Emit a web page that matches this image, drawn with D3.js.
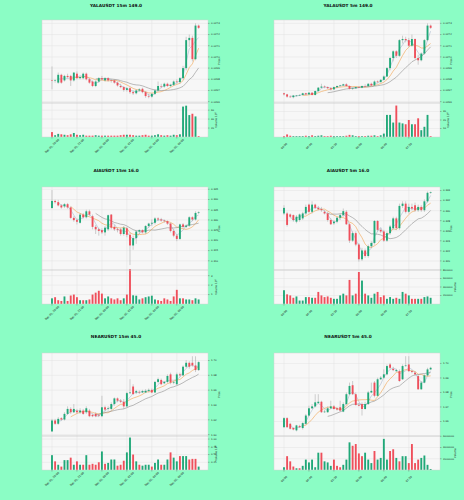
<!DOCTYPE html>
<html>
<head>
<meta charset="utf-8">
<script src="https://cdn.jsdelivr.net/npm/d3@7"></script>
<style>
  html, body { margin: 0; padding: 0; background: #8bfdc5; }
  svg { display: block; font-family: "DejaVu Sans", sans-serif; }
</style>
</head>
<body>
<svg id="fig" width="464" height="500"></svg>
<script>

// ---- data: [open, high, low, close] per candle ----

const yala15Candles = [
  [0.02679,0.026915,0.02671,0.026785],[0.026785,0.0268,0.02677,0.02679],[0.02677,0.02686,0.02676,0.02684],
  [0.02684,0.02685,0.02676,0.02677],[0.02679,0.02684,0.02678,0.02683],[0.02683,0.02685,0.02681,0.02682],
  [0.02683,0.02684,0.02674,0.02679],[0.02679,0.02686,0.02678,0.02686],[0.02685,0.02687,0.0268,0.02681],
  [0.02681,0.02683,0.0268,0.02682],[0.02681,0.02686,0.0268,0.02685],[0.02685,0.02686,0.02679,0.0268],
  [0.0268,0.02681,0.02676,0.02677],[0.02678,0.02679,0.02673,0.02674],[0.02674,0.02679,0.02673,0.02678],
  [0.02678,0.02682,0.02677,0.02681],[0.02681,0.02683,0.02679,0.0268],[0.02679,0.02682,0.02678,0.02681],
  [0.02681,0.02682,0.02678,0.02679],[0.02679,0.0268,0.02677,0.026785],[0.02679,0.0268,0.02676,0.02677],
  [0.02677,0.02678,0.026735,0.026745],[0.02674,0.02676,0.02672,0.02673],[0.02673,0.02674,0.02669,0.026705],
  [0.026705,0.02673,0.02669,0.02672],[0.02672,0.02673,0.02667,0.026685],[0.026685,0.0267,0.02666,0.026675],
  [0.026675,0.02671,0.026665,0.0267],[0.0267,0.02672,0.02669,0.02671],[0.026715,0.026725,0.026675,0.026685],
  [0.026685,0.026695,0.026635,0.02665],[0.02665,0.02667,0.02663,0.026645],[0.026645,0.026675,0.026635,0.02667],
  [0.02667,0.02671,0.02666,0.0267],[0.0267,0.02678,0.02669,0.02674],[0.02674,0.02676,0.02672,0.026735],
  [0.026735,0.02677,0.026725,0.02676],[0.02676,0.02677,0.02673,0.02674],[0.02674,0.02676,0.02673,0.02675],
  [0.02675,0.02679,0.02674,0.02678],[0.02678,0.0268,0.02676,0.026775],[0.026775,0.02682,0.02676,0.02681],
  [0.02681,0.02692,0.0268,0.0269],[0.0269,0.02718,0.02688,0.02715],[0.02715,0.0272,0.02709,0.02717],
  [0.02717,0.02719,0.02696,0.02698],[0.02698,0.0273,0.02697,0.02728],[0.02728,0.02729,0.02725,0.02726]
];
const yala15Volume = [11,4,7,6,5,4,6,9,5,4, 5,3,3,3,4,3,3,3,3,3, 3,3,4,5,5,5,4,3,3,4,
  5,3,3,4,6,4,3,4,3,5, 4,6,68,70,49,52,46,2]; // x 10^6

const yala5Candles = [
  [0.026675,0.02668,0.026655,0.026665],[0.026665,0.02667,0.026635,0.026645],[0.026645,0.026655,0.026635,0.02664],
  [0.02664,0.02666,0.02663,0.026655],[0.02665,0.02666,0.026645,0.026655],[0.026655,0.026665,0.02665,0.02666],
  [0.02666,0.02668,0.026655,0.026675],[0.026675,0.02668,0.02666,0.026665],[0.026665,0.026685,0.02666,0.02668],
  [0.02668,0.026685,0.026655,0.02666],[0.02666,0.0267,0.026655,0.026695],[0.026695,0.02673,0.02669,0.026725],
  [0.026725,0.02676,0.02672,0.026735],[0.026735,0.026745,0.02672,0.02673],[0.02673,0.026735,0.026715,0.02672],
  [0.02672,0.02673,0.0267,0.02671],[0.02671,0.026735,0.026705,0.02673],[0.02673,0.026745,0.02672,0.02674],
  [0.02674,0.02675,0.026735,0.026745],[0.026745,0.02676,0.02674,0.026755],[0.026755,0.026765,0.026735,0.02674],
  [0.02674,0.026745,0.02671,0.026715],[0.026715,0.026725,0.026705,0.02672],[0.02672,0.026735,0.026715,0.02673],
  [0.02673,0.026738,0.026722,0.026725],[0.026725,0.026745,0.02672,0.02674],[0.02674,0.026755,0.026735,0.026738],
  [0.026738,0.026765,0.02673,0.02676],[0.02676,0.02677,0.02674,0.026745],[0.026745,0.02679,0.02674,0.02678],
  [0.02678,0.02679,0.026765,0.026775],[0.026775,0.0268,0.02677,0.026795],[0.026795,0.026835,0.02679,0.026825],
  [0.026825,0.02691,0.02682,0.0269],[0.0269,0.027,0.02688,0.02699],[0.02699,0.02706,0.02696,0.02705],
  [0.02705,0.02706,0.02699,0.02701],[0.02701,0.02716,0.027,0.02715],[0.02715,0.02719,0.02712,0.02716],
  [0.02716,0.02718,0.02713,0.02715],[0.02715,0.02717,0.02709,0.0271],[0.0271,0.0272,0.02709,0.02716],
  [0.02716,0.027165,0.02698,0.02699],[0.02699,0.02702,0.02693,0.02697],[0.02697,0.02704,0.02696,0.02703],
  [0.02703,0.02716,0.02702,0.02715],[0.02715,0.0273,0.02714,0.02728],[0.02728,0.02729,0.02725,0.02726]
];
const yala5Volume = [1,3,1.5,1, 1,1,1,1.5,1, 2,1,1.5,2,1,1, 1.5,1,1, 1,1,1.5,2.5,2,1,
  1,1,1, 1.5,1.5,2,1,2, 4,26,26,17,37,17,16,15,20,15,15,22,8,12,26,1]; // x 10^6

const aia15Candles = [
  [0.3358,0.3446,0.3355,0.3393],[0.3393,0.3399,0.338,0.3387],[0.3387,0.3398,0.3366,0.3371],
  [0.3371,0.3377,0.3355,0.3361],[0.3366,0.3382,0.3358,0.3377],[0.3377,0.3383,0.3355,0.3361],
  [0.3361,0.3366,0.3305,0.331],[0.331,0.3318,0.3291,0.3299],[0.3299,0.3307,0.3278,0.3291],
  [0.3286,0.3334,0.3282,0.3326],[0.3326,0.3334,0.3307,0.3313],[0.3313,0.335,0.3307,0.3342],
  [0.3342,0.335,0.3318,0.3326],[0.3318,0.3326,0.3254,0.3266],[0.3266,0.3275,0.3231,0.3254],
  [0.3254,0.3262,0.3223,0.3246],[0.325,0.3259,0.3231,0.3239],[0.3239,0.327,0.3223,0.3262],
  [0.3254,0.3326,0.3246,0.3323],[0.3326,0.3329,0.3254,0.3262],[0.3266,0.3275,0.3246,0.3254],
  [0.3254,0.3262,0.3239,0.325],[0.3254,0.3262,0.3223,0.3231],[0.3231,0.327,0.3223,0.3262],
  [0.3259,0.3266,0.3215,0.3227],[0.3227,0.3239,0.3079,0.3175],[0.3175,0.3223,0.3154,0.3211],
  [0.3211,0.325,0.3183,0.3243],[0.3243,0.3254,0.3231,0.325],[0.325,0.3254,0.3234,0.3239],
  [0.3239,0.3275,0.3231,0.327],[0.327,0.3286,0.3262,0.3282],[0.3282,0.3302,0.327,0.3286],
  [0.3286,0.3313,0.3278,0.3307],[0.3307,0.3313,0.3294,0.3302],[0.3302,0.331,0.3291,0.3297],
  [0.3297,0.3302,0.3286,0.3294],[0.3294,0.3297,0.3275,0.3282],[0.3282,0.3286,0.3239,0.3246],
  [0.3246,0.3254,0.3215,0.3223],[0.3223,0.3231,0.3196,0.3207],[0.3207,0.3282,0.3202,0.3278],
  [0.3278,0.3285,0.3259,0.3266],[0.3266,0.3278,0.3259,0.3272],[0.3272,0.3318,0.3266,0.3313],
  [0.3313,0.3318,0.3294,0.3302],[0.3302,0.3342,0.3297,0.3334],[0.3334,0.3342,0.3329,0.3337]
];
const aia15Volume = [0.6,0.72,0.4,0.32,0.8,0.32,0.9,1.0,0.72,0.4, 0.4,0.4,0.48,1.0,1.2,1.4,1.1,0.6,0.8,0.6,
  0.48,0.6,0.4,0.6,1.0,3.7,0.92,0.88,0.48, 0.6,0.72,0.8,0.88,0.48,0.4,0.32,0.6,0.48,0.32,
  0.8,1.5,0.6,0.6,0.48,0.48,0.4,0.6,0.48]; // x 10^6

const aia5Candles = [
  [0.32944,0.33107,0.32911,0.33055],[0.32944,0.32977,0.32684,0.32716],[0.32924,0.32944,0.32846,0.32879],
  [0.32911,0.32924,0.32781,0.32814],[0.32781,0.32911,0.32749,0.32879],[0.32814,0.32944,0.32781,0.32924],
  [0.32846,0.32977,0.32814,0.32944],[0.32944,0.3312,0.32911,0.33074],[0.3312,0.33139,0.32944,0.32977],
  [0.32977,0.33185,0.32944,0.3312],[0.3312,0.33139,0.33029,0.33055],[0.33055,0.33094,0.33009,0.33029],
  [0.33029,0.33074,0.32977,0.33009],[0.32977,0.33009,0.32924,0.32944],[0.32944,0.32977,0.32781,0.32814],
  [0.32814,0.32846,0.32716,0.32729],[0.32749,0.32814,0.32716,0.32781],[0.32781,0.32879,0.32749,0.32859],
  [0.32859,0.32944,0.32814,0.32911],[0.32911,0.33042,0.32879,0.3299],[0.32977,0.33009,0.32716,0.32729],
  [0.32729,0.32749,0.32358,0.32404],[0.32404,0.32586,0.32378,0.32553],[0.32553,0.32586,0.32293,0.32326],
  [0.32326,0.32358,0.31987,0.32033],[0.32033,0.3226,0.32,0.32208],[0.32208,0.32247,0.32065,0.32098],
  [0.32098,0.32326,0.32065,0.32293],[0.32293,0.32391,0.3226,0.32358],[0.32358,0.32814,0.32326,0.32794],
  [0.32794,0.32814,0.32586,0.32618],[0.32618,0.32651,0.32553,0.32586],[0.32586,0.32618,0.32378,0.32404],
  [0.32404,0.32586,0.32378,0.32553],[0.32553,0.32716,0.32521,0.32684],[0.32651,0.32879,0.32618,0.32846],
  [0.32846,0.32879,0.32618,0.32651],[0.32651,0.33139,0.32618,0.33094],[0.33094,0.33185,0.33055,0.33139],
  [0.33139,0.33185,0.32944,0.32977],[0.32977,0.33139,0.32944,0.33074],[0.33074,0.33139,0.33009,0.33042],
  [0.33107,0.33159,0.32977,0.33009],[0.33009,0.3312,0.32977,0.33074],[0.33074,0.33107,0.32977,0.33009],
  [0.33009,0.33224,0.32977,0.33185],[0.33185,0.3338,0.33159,0.33354],[0.33354,0.3338,0.33335,0.33367]
];
const aia5Volume = [324000,227000,202000,146000,178000,81000,81000,162000,162000,146000,
  146000,284000,202000,162000,178000,146000,122000,122000,202000,243000,
  202000,567000,202000,243000,753000,551000,243000,202000,146000,243000,
  284000,162000,202000,122000,162000,122000,146000,122000,284000,243000,
  202000,122000,122000,122000,122000,162000,178000,146000];

const near15Candles = [
  [1.6044,1.6213,1.6036,1.6191],[1.6191,1.6213,1.6133,1.6147],[1.6147,1.6236,1.6133,1.6213],
  [1.6222,1.6236,1.6191,1.6204],[1.6204,1.6302,1.6191,1.628],[1.628,1.6382,1.6267,1.6347],
  [1.6347,1.6369,1.628,1.6302],[1.6302,1.6413,1.6293,1.6347],[1.6324,1.6347,1.628,1.6302],
  [1.6302,1.6356,1.628,1.6324],[1.6324,1.6347,1.6267,1.628],[1.6302,1.6382,1.628,1.6356],
  [1.6324,1.6347,1.6236,1.6249],[1.6267,1.628,1.6236,1.6249],[1.628,1.6302,1.6236,1.6249],
  [1.6267,1.628,1.6236,1.6258],[1.6249,1.6524,1.6236,1.6369],[1.6369,1.6391,1.6311,1.6338],
  [1.6347,1.6382,1.6324,1.6356],[1.6347,1.6436,1.6324,1.6413],[1.6413,1.6502,1.6391,1.6489],
  [1.6489,1.6502,1.6436,1.6458],[1.6458,1.648,1.6427,1.6444],[1.6444,1.648,1.6347,1.6382],
  [1.6382,1.6578,1.6369,1.656],[1.656,1.6747,1.6547,1.6569],[1.6649,1.668,1.6533,1.6547],
  [1.6569,1.6604,1.6547,1.6587],[1.6578,1.6596,1.6547,1.6569],[1.6569,1.6604,1.656,1.6587],
  [1.6569,1.6613,1.656,1.6591],[1.6591,1.6622,1.6569,1.6604],[1.6604,1.6622,1.656,1.6569],
  [1.6569,1.6724,1.656,1.6711],[1.6711,1.6769,1.6693,1.6747],[1.6738,1.6756,1.6667,1.668],
  [1.6693,1.6724,1.668,1.6711],[1.6711,1.6813,1.6693,1.6791],[1.6813,1.6836,1.668,1.6702],
  [1.6702,1.6724,1.668,1.6711],[1.668,1.6836,1.6667,1.6813],[1.6813,1.6836,1.6782,1.68],
  [1.68,1.6933,1.6791,1.6916],[1.6916,1.7004,1.6902,1.6969],[1.6969,1.699,1.6889,1.6916],
  [1.6969,1.7057,1.6916,1.6933],[1.6933,1.7057,1.6844,1.6871],[1.6871,1.699,1.6858,1.6978]
];
const near15Volume = [0.48,0.28,0.17,0.11,0.32,0.32,0.4,0.17,0.28,0.17,
  0.17,0.48,0.17,0.2,0.17,0.25,0.6,0.2,0.23,0.34,
  0.34,0.14,0.17,0.3,0.57,1.05,0.5,0.28,0.17,0.14,
  0.17,0.17,0.11,0.23,0.34,0.17,0.17,0.34,0.57,0.4,
  0.28,0.45,0.45,0.45,0.34,0.36,0.36,0.11]; // x 10^6

const near5Candles = [
  [1.6561,1.663,1.6555,1.6623],[1.6623,1.663,1.6555,1.6561],[1.6584,1.6591,1.6545,1.655],
  [1.6555,1.6561,1.6539,1.6545],[1.6539,1.6577,1.6532,1.6573],[1.6568,1.6577,1.6555,1.6561],
  [1.6555,1.6595,1.6545,1.6589],[1.6584,1.6652,1.6577,1.6641],[1.6641,1.6709,1.6636,1.6691],
  [1.6691,1.672,1.6686,1.6704],[1.6704,1.6788,1.6698,1.6732],[1.6727,1.6788,1.672,1.6736],
  [1.6736,1.6743,1.6659,1.6664],[1.6664,1.6682,1.6659,1.6668],[1.6664,1.6704,1.6659,1.6691],
  [1.6691,1.6743,1.6686,1.6704],[1.6704,1.6714,1.6682,1.6686],[1.6691,1.6698,1.6675,1.6682],
  [1.6698,1.6743,1.6668,1.6675],[1.6668,1.6732,1.6664,1.672],[1.672,1.68,1.6714,1.6788],
  [1.6788,1.6868,1.6782,1.6845],[1.685,1.6879,1.6782,1.6788],[1.6788,1.68,1.6709,1.6714],
  [1.6714,1.6727,1.6704,1.6709],[1.672,1.6732,1.6641,1.6686],[1.6686,1.6736,1.6682,1.672],
  [1.672,1.6811,1.6714,1.68],[1.68,1.6868,1.6795,1.6811],[1.6868,1.6879,1.6766,1.6777],
  [1.6777,1.6902,1.6772,1.6891],[1.6891,1.6913,1.6886,1.6902],[1.6902,1.6959,1.6895,1.6925],
  [1.6925,1.6993,1.6918,1.6982],[1.6993,1.7004,1.6959,1.697],[1.6963,1.6977,1.6947,1.6954],
  [1.6947,1.6963,1.6941,1.6954],[1.6947,1.6959,1.6873,1.6879],[1.6891,1.6993,1.6886,1.6982],
  [1.6982,1.705,1.6977,1.6986],[1.6993,1.705,1.6941,1.6947],[1.6947,1.6954,1.6932,1.6941],
  [1.6936,1.6947,1.6913,1.6925],[1.6913,1.6925,1.6818,1.6822],[1.6822,1.6879,1.6818,1.6868],
  [1.6868,1.6925,1.6863,1.6918],[1.6918,1.697,1.6913,1.6959],[1.6959,1.6977,1.6954,1.697]
];
const near5Volume = [490000,2460000,1540000,620000,310000,310000,740000,1850000,1350000,1850000,
  490000,3080000,3080000,1540000,1350000,740000,1850000,740000,490000,920000,
  1850000,4920000,4310000,4620000,2950000,2460000,3080000,1850000,1230000,3380000,
  1850000,2150000,5540000,1850000,3380000,3690000,2150000,1540000,2460000,2460000,
  1230000,4620000,1230000,1850000,2150000,2580000,920000,180000];

// ---- tick labels ----
const labels15m = ['Dec 01, 20:00', 'Dec 01, 22:00', 'Dec 02, 00:00', 'Dec 02, 02:00', 'Dec 02, 04:00', 'Dec 02, 06:00'];
const labels5m = ['04:00', '04:40', '05:20', '06:00', '06:40', '07:20'];
const xTickIndex = [0, 8, 16, 24, 32, 40];

const yalaPriceTicks = [0.0266, 0.0267, 0.0268, 0.0269, 0.027, 0.0271, 0.0272, 0.0273];
const aia15PriceTicks = [0.310, 0.315, 0.320, 0.325, 0.330, 0.335, 0.340, 0.345];
const aia5PriceTicks = [0.320, 0.322, 0.324, 0.326, 0.328, 0.330, 0.332, 0.334];
const near15PriceTicks = [1.60, 1.62, 1.64, 1.66, 1.68, 1.70];
const near5PriceTicks = [1.66, 1.67, 1.68, 1.69, 1.70];

const yala15VolTicks = [20, 40, 60];
const yala5VolTicks = [10, 20, 30];
const aia15VolTicks = [1, 2, 3];
const aia5VolTicks = [200000, 400000, 600000, 800000];
const near15VolTicks = [0.25, 0.50, 0.75, 1.00];
const near5VolTicks = [2000000, 4000000, 6000000];

const maPeriods = [3, 7, 15];
const maColors = ['#a9b9cf', '#f2a24e', '#8e8e8e'];

// ---- panels ----
const panels = [
  { title: 'YALAUSDT 15m 149.0', candles: yala15Candles, volume: yala15Volume, col: 0, row: 0,
    priceTicks: yalaPriceTicks, priceFmt: '.4f', priceDomain: [0.026588, 0.02733],
    volTicks: yala15VolTicks, volFmt: 'd', volDomain: [0, 76], volExp: true, xLabels: labels15m },
  { title: 'YALAUSDT 5m 149.0', candles: yala5Candles, volume: yala5Volume, col: 1, row: 0,
    priceTicks: yalaPriceTicks, priceFmt: '.4f', priceDomain: [0.026588, 0.02733],
    volTicks: yala5VolTicks, volFmt: 'd', volDomain: [0, 40], volExp: true, xLabels: labels5m },
  { title: 'AIAUSDT 15m 16.0', candles: aia15Candles, volume: aia15Volume, col: 0, row: 1,
    priceTicks: aia15PriceTicks, priceFmt: '.3f', priceDomain: [0.3055, 0.3461],
    volTicks: aia15VolTicks, volFmt: 'd', volDomain: [0, 3.6], volExp: true, xLabels: labels15m },
  { title: 'AIAUSDT 5m 16.0', candles: aia5Candles, volume: aia5Volume, col: 1, row: 1,
    priceTicks: aia5PriceTicks, priceFmt: '.3f', priceDomain: [0.3182, 0.3347],
    volTicks: aia5VolTicks, volFmt: 'd', volDomain: [0, 800000], volExp: false, xLabels: labels5m },
  { title: 'NEARUSDT 15m 45.0', candles: near15Candles, volume: near15Volume, col: 0, row: 2,
    priceTicks: near15PriceTicks, priceFmt: '.2f', priceDomain: [1.5982, 1.7101],
    volTicks: near15VolTicks, volFmt: '.2f', volDomain: [0, 1.1], volExp: true, xLabels: labels15m },
  { title: 'NEARUSDT 5m 45.0', candles: near5Candles, volume: near5Volume, col: 1, row: 2,
    priceTicks: near5PriceTicks, priceFmt: '.2f', priceDomain: [1.650, 1.7072],
    volTicks: near5VolTicks, volFmt: 'd', volDomain: [0, 6050000], volExp: false, xLabels: labels5m }
];

// ---- layout ----
const colX = [0, 232];
const rowY = [0, 167, 333];
const titleY = [5, 170, 336];
const upColor = '#20a878';
const downColor = '#ef4f5b';

const svg = d3.select('#fig');

function sma(values, n) {
  return values.map((v, i) => i < n - 1 ? null : d3.mean(values.slice(i - n + 1, i + 1)));
}

function drawPanel(p) {
  const ox = colX[p.col], oy = rowY[p.row];
  const left = ox + 42, right = ox + 208;
  const top = oy + 20, sep = oy + 103, bottom = oy + 137;
  const n = p.candles.length;

  const x = d3.scaleLinear().domain([-3.2, n + 2]).range([left, right]);
  const y = d3.scaleLinear().domain(p.priceDomain).range([sep, top]);
  const yv = d3.scaleLinear().domain(p.volDomain).range([bottom, sep]);
  const step = x(1) - x(0);
  const bw = step * 0.6;

  const g = svg.append('g');

  // background
  g.append('rect').attr('x', left).attr('y', top).attr('width', right - left).attr('height', bottom - top)
    .attr('fill', '#f7f7f7');

  // grid
  const grid = g.append('g').attr('stroke', '#e2e2e2').attr('stroke-width', 0.5);
  grid.selectAll('.vx').data(xTickIndex).enter().append('line')
    .attr('x1', d => x(d)).attr('x2', d => x(d)).attr('y1', top).attr('y2', bottom);
  grid.selectAll('.hp').data(p.priceTicks).enter().append('line')
    .attr('x1', left).attr('x2', right).attr('y1', d => y(d)).attr('y2', d => y(d));
  grid.selectAll('.hv').data(p.volTicks).enter().append('line')
    .attr('x1', left).attr('x2', right).attr('y1', d => yv(d)).attr('y2', d => yv(d));

  // clip
  const clipId = 'clip-' + p.col + '-' + p.row;
  svg.append('clipPath').attr('id', clipId).append('rect')
    .attr('x', left).attr('y', top).attr('width', right - left).attr('height', sep - top);

  const pg = g.append('g').attr('clip-path', 'url(#' + clipId + ')');

  // moving averages
  const closes = p.candles.map(d => d[3]);
  maPeriods.forEach((m, k) => {
    const ma = sma(closes, m);
    const line = d3.line().defined(d => d !== null).x((d, i) => x(i)).y(d => y(d));
    pg.append('path').datum(ma).attr('d', line).attr('fill', 'none')
      .attr('stroke', maColors[k]).attr('stroke-width', 0.6);
  });

  // candles
  const c = pg.selectAll('.candle').data(p.candles).enter().append('g');
  c.append('line')
    .attr('x1', (d, i) => x(i)).attr('x2', (d, i) => x(i))
    .attr('y1', d => y(d[1])).attr('y2', d => y(d[2]))
    .attr('stroke', '#a0a0a0').attr('stroke-width', 0.5);
  c.append('rect')
    .attr('x', (d, i) => x(i) - bw / 2).attr('width', bw)
    .attr('y', d => y(Math.max(d[0], d[3])))
    .attr('height', d => Math.max(0.5, Math.abs(y(d[0]) - y(d[3]))))
    .attr('fill', d => d[3] >= d[0] ? upColor : downColor);

  // volume
  g.selectAll('.vol').data(p.volume).enter().append('rect')
    .attr('x', (d, i) => x(i) - bw / 2).attr('width', bw)
    .attr('y', d => yv(d)).attr('height', d => bottom - yv(d))
    .attr('fill', (d, i) => p.candles[i][3] >= p.candles[i][0] ? upColor : downColor);

  // frame and separator
  g.append('rect').attr('x', left).attr('y', top).attr('width', right - left).attr('height', bottom - top)
    .attr('fill', 'none').attr('stroke', '#d4d4d4').attr('stroke-width', 0.5);
  g.append('line').attr('x1', left).attr('x2', right).attr('y1', sep).attr('y2', sep)
    .attr('stroke', '#c4c4c4').attr('stroke-width', 0.7);

  // right axes
  const fs = 2.5;
  const pf = d3.format(p.priceFmt), vf = d3.format(p.volFmt);
  const ax = g.append('g').attr('font-size', fs).attr('fill', '#222');
  ax.selectAll('.pt').data(p.priceTicks).enter().append('text')
    .attr('x', right + 3).attr('y', d => y(d)).attr('dy', '0.35em').text(d => pf(d));
  ax.selectAll('.vt').data(p.volTicks).enter().append('text')
    .attr('x', right + 3).attr('y', d => yv(d)).attr('dy', '0.35em').text(d => vf(d));
  const tk = g.append('g').attr('stroke', '#555').attr('stroke-width', 0.4);
  tk.selectAll('.ptk').data(p.priceTicks).enter().append('line')
    .attr('x1', right).attr('x2', right + 1.5).attr('y1', d => y(d)).attr('y2', d => y(d));
  tk.selectAll('.vtk').data(p.volTicks).enter().append('line')
    .attr('x1', right).attr('x2', right + 1.5).attr('y1', d => yv(d)).attr('y2', d => yv(d));
  tk.selectAll('.xtk').data(xTickIndex).enter().append('line')
    .attr('x1', d => x(d)).attr('x2', d => x(d)).attr('y1', bottom).attr('y2', bottom + 1.5);

  // axis labels
  ax.append('text').attr('transform', `translate(${ox + 220},${(top + sep) / 2}) rotate(-90)`)
    .attr('text-anchor', 'middle').attr('font-size', 2.7).text('Price');
  const vlx = p.volExp ? ox + 217 : ox + 224;
  const vl = ax.append('text').attr('transform', `translate(${vlx},${(sep + bottom) / 2}) rotate(-90)`)
    .attr('text-anchor', 'middle').attr('font-size', 2.7);
  vl.append('tspan').text(p.volExp ? 'Volume  10' : 'Volume');
  if (p.volExp) vl.append('tspan').attr('dy', -1).attr('font-size', 1.9).text('6');

  // x labels
  ax.selectAll('.xl').data(xTickIndex).enter().append('text')
    .attr('transform', d => `translate(${x(d)},${bottom + 9}) rotate(-45)`)
    .attr('text-anchor', 'middle').attr('dy', '0.35em').attr('font-size', 2.7)
    .text((d, i) => p.xLabels[i]);

  // title
  svg.append('text').attr('x', ox + 116).attr('y', titleY[p.row]).attr('dy', '0.35em')
    .attr('text-anchor', 'middle').attr('font-size', 4.3).attr('font-weight', 'bold')
    .attr('fill', '#111').text(p.title);
}

panels.forEach(drawPanel);
</script>
</body>
</html>
